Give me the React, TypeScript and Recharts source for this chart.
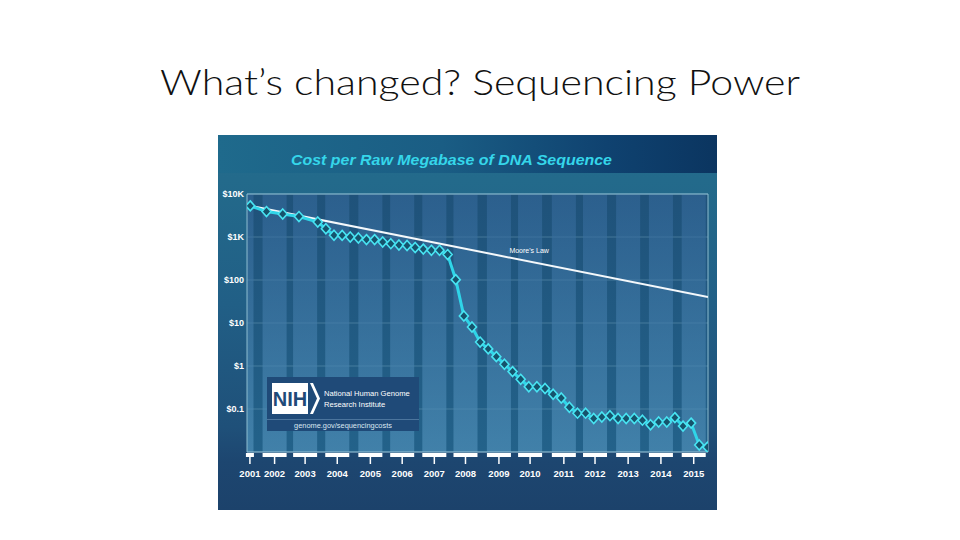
import React from "react";
import {
  LineChart, Line, XAxis, YAxis, CartesianGrid,
  ReferenceArea, ReferenceLine, ReferenceDot,
} from "recharts";

// sample dates as decimal years (Sep-01, Mar-02 ... then quarterly to Oct-15)
const DATES = [
  2001.67, 2002.17, 2002.67, 2003.17, 2003.75,
  2004.0, 2004.25, 2004.5, 2004.75,
  2005.0, 2005.25, 2005.5, 2005.75,
  2006.0, 2006.25, 2006.5, 2006.75,
  2007.0, 2007.25, 2007.5, 2007.75,
  2008.0, 2008.25, 2008.5, 2008.75,
  2009.0, 2009.25, 2009.5, 2009.75,
  2010.0, 2010.25, 2010.5, 2010.75,
  2011.0, 2011.25, 2011.5, 2011.75,
  2012.0, 2012.25, 2012.5, 2012.75,
  2013.0, 2013.25, 2013.5, 2013.75,
  2014.0, 2014.25, 2014.5, 2014.75,
  2015.0, 2015.25, 2015.5, 2015.75,
];

// cost per raw megabase, USD
const COSTS = [
  5292, 3899, 3414, 2986, 2231,
  1550, 1100, 1090, 1000,
  950, 870, 870, 767,
  700, 652, 636, 570,
  523, 490, 490, 390,
  102, 14.5, 8.1, 3.6,
  2.5, 1.65, 1.1, 0.74,
  0.49, 0.33, 0.33, 0.3,
  0.22, 0.18, 0.11, 0.08,
  0.08, 0.06, 0.065, 0.07,
  0.06, 0.06, 0.06, 0.055,
  0.043, 0.05, 0.05, 0.063,
  0.04, 0.047, 0.0145, 0.013,
];

const MOORE_DATES = [2001.67, 2015.77];
const MOORE_COSTS = [5292, 40];

const Y_TICKS = [0.1, 1, 10, 100, 1000, 10000];
const Y_LABELS = ["$0.1", "$1", "$10", "$100", "$1K", "$10K"];

const X_TICKS = [
  2001.66, 2002.42, 2003.36, 2004.35, 2005.37, 2006.35, 2007.34, 2008.3,
  2009.33, 2010.29, 2011.33, 2012.29, 2013.31, 2014.32, 2015.33,
];
const X_LABELS = [
  "2001", "2002", "2003", "2004", "2005", "2006", "2007", "2008",
  "2009", "2010", "2011", "2012", "2013", "2014", "2015",
];

const X_MIN = 2001.57;
const X_MAX = 2015.77;

const seqData = DATES.map((t, i) => ({ t, cost: COSTS[i] }));
const mooreData = MOORE_DATES.map((t, i) => ({ t, moore: MOORE_COSTS[i] }));

const FONT = "'Liberation Sans', Arial, sans-serif";

const Diamond = (props: any) => {
  const { cx, cy, index } = props;
  if (cx == null || cy == null) return null;
  return (
    <polygon
      key={`d${index}`}
      points={`${cx},${cy - 5} ${cx + 4.5},${cy} ${cx},${cy + 5} ${cx - 4.5},${cy}`}
      fill="#16536c"
      stroke="#48e4f2"
      strokeWidth={1.6}
    />
  );
};

const YTick = ({ x, y, payload }: any) => {
  const i = Y_TICKS.indexOf(payload.value);
  return (
    <text x={x} y={y} dy={3.2} textAnchor="end" fill="#fff" fontSize={9} fontWeight={700} fontFamily={FONT}>
      {Y_LABELS[i]}
    </text>
  );
};

const XTick = ({ x, y, index }: any) => {
  const w = index === 0 ? 8 : 24;
  return (
    <g>
      <rect x={x - w / 2} y={y + 1} width={w} height={4} fill="#fff" />
      <line x1={x} x2={x} y1={y + 5} y2={y + 12} stroke="#fff" strokeWidth={1.5} />
      <text x={x} y={y + 25} textAnchor="middle" fill="#fff" fontSize={9.5} fontWeight={700} fontFamily={FONT}>
        {X_LABELS[index]}
      </text>
    </g>
  );
};

export default function App() {
  return (
    <div style={{ position: "absolute", left: 0, top: 0, width: 960, height: 540, background: "#fff", overflow: "hidden" }}>
      <svg width={960} height={120} style={{ position: "absolute", left: 0, top: 0 }}>
        <text x={160} y={95} textLength={640} lengthAdjust="spacingAndGlyphs" fontSize={35} fontWeight={300}
          fontFamily="Lato, 'Open Sans', sans-serif" fill="#111">
          What’s changed? Sequencing Power
        </text>
      </svg>

      <div style={{
        position: "absolute", left: 218, top: 135, width: 499, height: 375,
        background: "linear-gradient(180deg, #246c8d 0%, #236a8b 12%, #215f86 45%, #1f5079 78%, #1d4670 87%, #1c426b 100%)",
      }}>
        <div style={{
          position: "absolute", left: 0, top: 0, width: 499, height: 38,
          background: "linear-gradient(90deg, #1f6a8c 0%, #1a5d84 45%, #0f4270 78%, #0b3560 100%)",
        }} />
        <svg width={499} height={40} style={{ position: "absolute", left: 0, top: 0 }}>
          <text x={73} y={30} textLength={321} lengthAdjust="spacingAndGlyphs" fontSize={15.5} fontWeight={700}
            fontStyle="italic" fontFamily={FONT} fill="#35d6ea">
            Cost per Raw Megabase of DNA Sequence
          </text>
        </svg>

        <div style={{ position: "absolute", left: 0, top: 0 }}>
          <LineChart width={499} height={375} margin={{ top: 59, right: 9, bottom: 28, left: 0 }}>
            <defs>
              <linearGradient id="plotBg" x1="0" y1="0" x2="0" y2="1">
                <stop offset="0%" stopColor="#1f527a" />
                <stop offset="100%" stopColor="#23628a" />
              </linearGradient>
              <linearGradient id="colFill" x1="0" y1="0" x2="0" y2="1">
                <stop offset="0%" stopColor="#34689a" stopOpacity={0.6} />
                <stop offset="100%" stopColor="#4f8fb8" stopOpacity={0.68} />
              </linearGradient>
            </defs>
            <CartesianGrid vertical={false} fill="url(#plotBg)" stroke="#9cc8dc" strokeOpacity={0.3} />
            {X_TICKS.map((t, i) => (
              <ReferenceArea
                key={`col${i}`}
                x1={i === 0 ? X_MIN : Math.max(X_MIN, t - 0.37)}
                x2={i === 0 ? t + 0.11 : Math.min(X_MAX, t + 0.37)}
                y1={0.01}
                y2={10000}
                fill="url(#colFill)"
                fillOpacity={1}
                stroke="none"
                ifOverflow="hidden"
              />
            ))}
            <XAxis
              type="number"
              dataKey="t"
              domain={[X_MIN, X_MAX]}
              allowDataOverflow
              ticks={X_TICKS}
              interval={0}
              height={30}
              tickSize={0}
              tickMargin={0}
              tickLine={false}
              axisLine={{ stroke: "#a8d0e0", strokeOpacity: 0.8 }}
              tick={<XTick />}
            />
            <YAxis
              type="number"
              scale="log"
              domain={[0.01, 10000]}
              allowDataOverflow
              ticks={Y_TICKS}
              interval={0}
              width={29}
              tickSize={0}
              tickMargin={3}
              tickLine={false}
              axisLine={{ stroke: "#8dbdd0" }}
              tick={<YTick />}
            />
            <ReferenceLine y={10000} stroke="#8dbdd0" />
            <ReferenceLine x={X_MAX} stroke="#8dbdd0" />
            <Line
              data={mooreData}
              dataKey="moore"
              type="linear"
              stroke="#f4f8fb"
              strokeWidth={2}
              dot={false}
              activeDot={false}
              isAnimationActive={false}
            />
            <Line
              data={seqData}
              dataKey="cost"
              type="linear"
              stroke="#2fd5e8"
              strokeWidth={3}
              dot={<Diamond />}
              activeDot={false}
              isAnimationActive={false}
            />
            <ReferenceDot
              x={2010.26}
              y={486}
              r={0}
              fill="none"
              stroke="none"
              label={{ value: "Moore's Law", position: "center", fill: "#fff", fontSize: 7, fontFamily: FONT }}
            />
          </LineChart>
        </div>

        <div style={{
          position: "absolute", left: 49, top: 242, width: 152, height: 54,
          background: "#1f4a78", fontFamily: FONT, color: "#fff",
        }}>
          <svg width={152} height={54} style={{ position: "absolute", left: 0, top: 0 }}>
            <rect x={5} y={6} width={36} height={31} fill="#fff" />
            <polygon points="43,6 46,6 53,21.5 46,37 43,37 50,21.5" fill="#fff" />
            <text x={23} y={28.5} textAnchor="middle" fontSize={20} fontWeight={700} fontFamily={FONT} fill="#1f4a78">NIH</text>
            <text x={57} y={19} fontSize={7.6} fontFamily={FONT} fill="#fff">National Human Genome</text>
            <text x={57} y={30} fontSize={7.6} fontFamily={FONT} fill="#fff">Research Institute</text>
            <line x1={0} x2={152} y1={42.5} y2={42.5} stroke="#6a93b6" strokeOpacity={0.6} />
            <text x={76} y={51} textAnchor="middle" fontSize={7.4} fontFamily={FONT} fill="#dbe7f1">genome.gov/sequencingcosts</text>
          </svg>
        </div>
      </div>
    </div>
  );
}
